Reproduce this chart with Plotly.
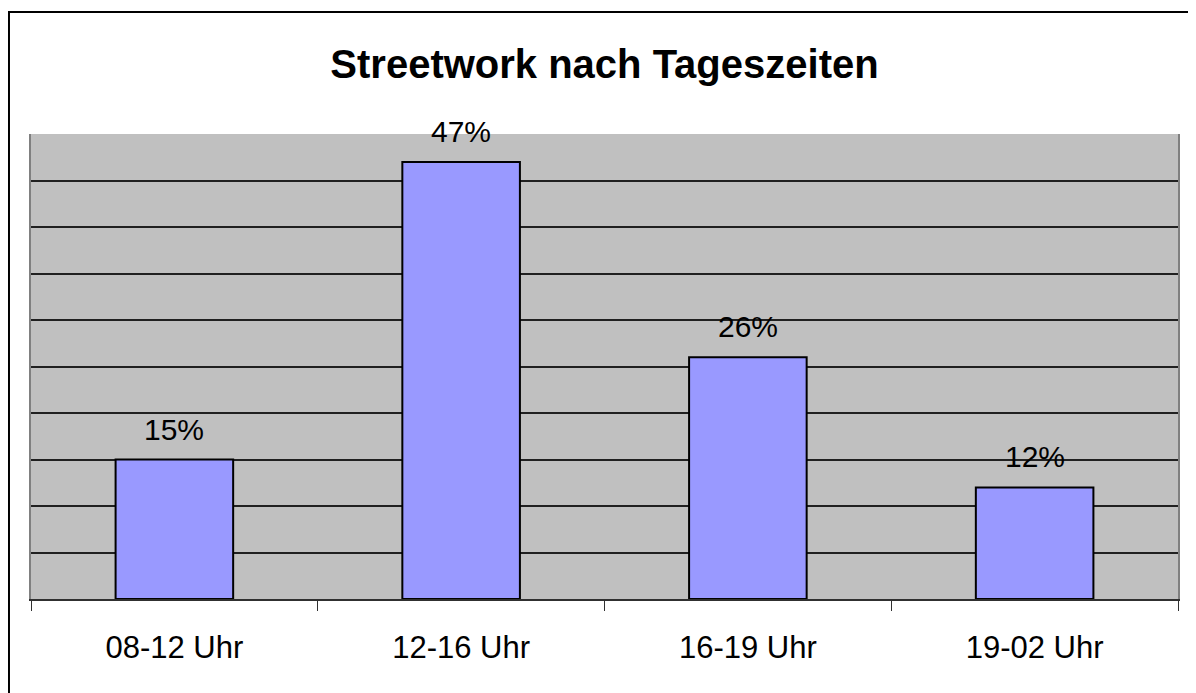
import plotly.graph_objects as go

# Anteile der Streetwork-Einsätze nach Tageszeit (in %)
kategorien = ["08-12 Uhr", "12-16 Uhr", "16-19 Uhr", "19-02 Uhr"]
anteile = [15, 47, 26, 12]
beschriftung = ["15%", "47%", "26%", "12%"]

schrift = "Liberation Sans, Arial"

fig = go.Figure()

fig.add_trace(go.Bar(
    x=kategorien,
    y=anteile,
    width=0.41,
    marker=dict(color="#9999ff", line=dict(color="black", width=2)),
    hoverinfo="x+y",
))

# Prozentwerte über den Balken
for kat, wert, txt in zip(kategorien, anteile, beschriftung):
    fig.add_annotation(
        x=kat, y=wert, text=txt, showarrow=False,
        yanchor="bottom", yshift=12,
        font=dict(family=schrift, size=30, color="black"),
    )

# the page body has an 8px margin, so the figure is made 8px smaller
fig.update_layout(
    width=1188, height=685,
    margin=dict(l=23, r=18, t=126, b=94),
    paper_bgcolor="white",
    plot_bgcolor="#c0c0c0",
    showlegend=False,
    title=dict(
        text="<b>Streetwork nach Tageszeiten</b>",
        font=dict(family=schrift, size=40, color="black"),
        x=0.5, xref="paper", xanchor="center", y=0.918, yanchor="middle",
    ),
    font=dict(family=schrift, color="black"),
    shapes=[dict(type="rect", xref="paper", yref="paper",
                 x0=-0.0192, x1=1.03, y0=-0.23, y1=1.2624,
                 line=dict(color="black", width=2))],
)

fig.update_xaxes(
    tickson="boundaries",
    ticks="outside", ticklen=10, tickcolor="#303030", tickwidth=1,
    showline=True, linecolor="#303030", linewidth=1.5,
    tickfont=dict(size=31, color="black"),
    ticklabelstandoff=20,
    showgrid=False,
)

fig.update_yaxes(
    range=[0, 50], dtick=5,
    showticklabels=False,
    showgrid=True, gridcolor="#202020", gridwidth=1.5,
    zeroline=False,
    showline=True, linecolor="#808080", linewidth=2, mirror=True,
)

fig.write_html("out.html")
